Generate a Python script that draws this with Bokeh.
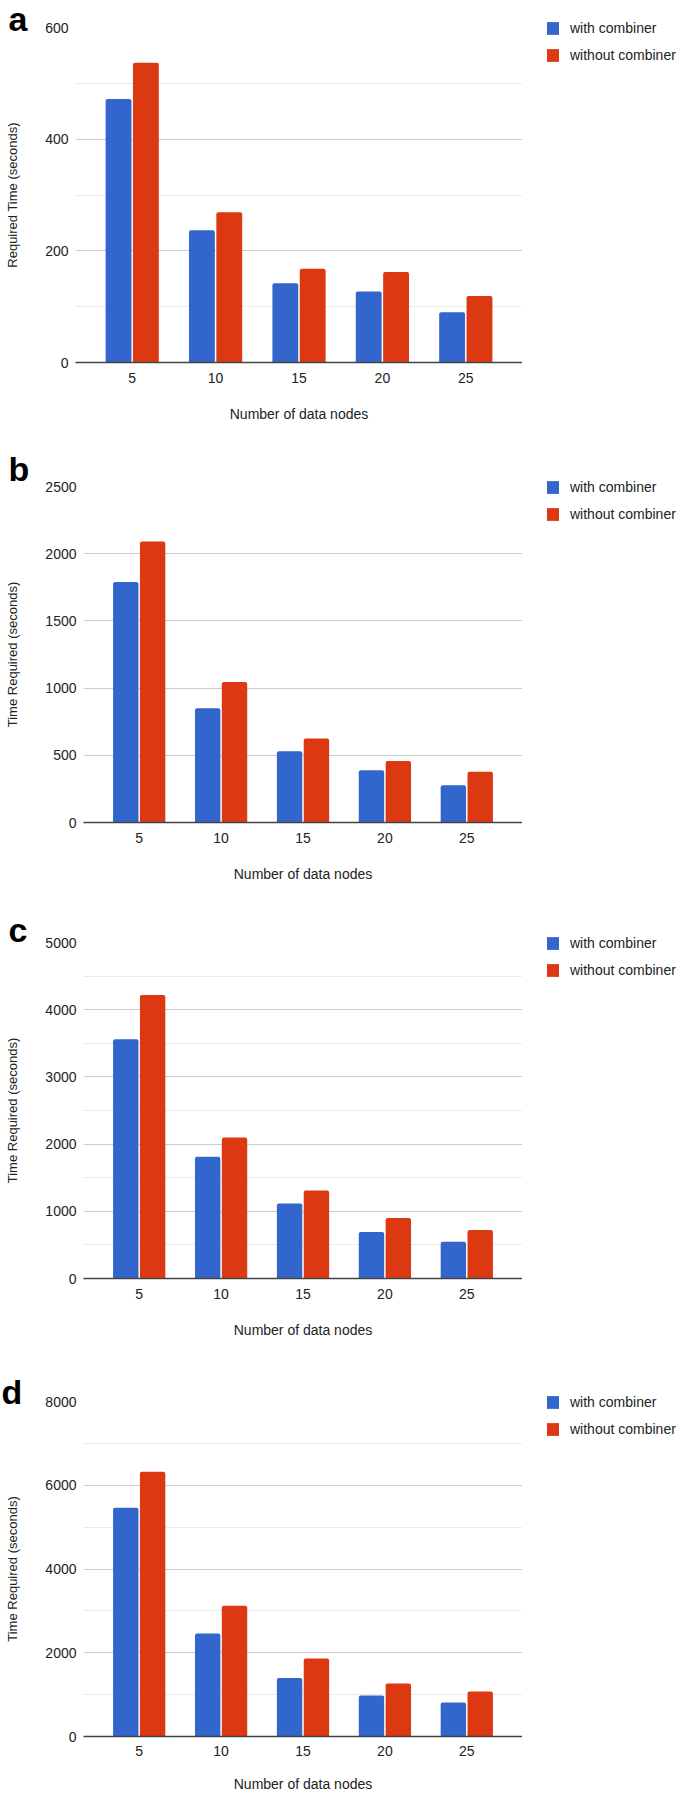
from bokeh.plotting import figure
from bokeh.models import (ColumnDataSource, FactorRange, Range1d, FixedTicker,
                          Legend, LegendItem)
from bokeh.transform import dodge
from bokeh.layouts import column, row
from bokeh.embed import file_html
from bokeh.resources import INLINE

# ---------------- data ----------------
nodes = ["5", "10", "15", "20", "25"]
series_names = ["with combiner", "without combiner"]
series_colors = ["#3366cc", "#dc3912"]

a_with = [472, 237, 142, 127, 90]
a_without = [537, 269, 168, 162, 119]

b_with = [1790, 850, 530, 388, 278]
b_without = [2090, 1045, 625, 457, 378]

c_with = [3560, 1810, 1115, 691, 547]
c_without = [4220, 2100, 1310, 900, 721]

d_with = [5460, 2460, 1400, 980, 810]
d_without = [6320, 3120, 1860, 1265, 1075]

a_ticks = [0, 200, 400, 600]
a_minor = [100, 300, 500]
b_ticks = [0, 500, 1000, 1500, 2000, 2500]
b_minor = []
c_ticks = [0, 1000, 2000, 3000, 4000, 5000]
c_minor = [500, 1500, 2500, 3500, 4500]
d_ticks = [0, 2000, 4000, 6000, 8000]
d_minor = [1000, 3000, 5000, 7000]

panel_letters = ["a", "b", "c", "d"]
y_titles = ["Required Time (seconds)", "Time Required (seconds)",
            "Time Required (seconds)", "Time Required (seconds)"]
x_title = "Number of data nodes"

FONT = "Liberation Sans"
TXT = "#222222"
MAIN_W = 522
LEG_W = 163


def make_panel(letter, with_vals, without_vals, ticks, minor, ytitle,
               fig_h, b_top, b_left, frame_h, x_label_standoff, x_title_standoff,
               letter_x, letter_valign, letter_standoff):
    src = ColumnDataSource(dict(x=nodes, w=with_vals, wo=without_vals))
    b_bottom = fig_h - b_top - frame_h
    p = figure(width=MAIN_W, height=fig_h,
               x_range=FactorRange(factors=nodes, range_padding=0.18,
                                   range_padding_units="absolute"),
               y_range=Range1d(0, ticks[-1]),
               output_backend="svg", toolbar_location=None, tools="",
               min_border_top=b_top, min_border_left=b_left,
               min_border_right=0, min_border_bottom=b_bottom)
    p.outline_line_color = None
    p.background_fill_color = "white"
    p.border_fill_color = "white"

    p.vbar(x=dodge("x", -0.164, range=p.x_range), top="w", width=0.31,
           source=src, fill_color=series_colors[0], line_color=None,
           border_radius=(2, 2, 0, 0))
    p.vbar(x=dodge("x", 0.164, range=p.x_range), top="wo", width=0.31,
           source=src, fill_color=series_colors[1], line_color=None,
           border_radius=(2, 2, 0, 0))

    ticker = FixedTicker(ticks=ticks, minor_ticks=minor)
    p.yaxis.ticker = ticker
    p.ygrid.ticker = ticker
    p.ygrid.grid_line_color = "#cccccc"
    p.ygrid.grid_line_width = 1
    p.ygrid.minor_grid_line_color = "#ebebeb"
    p.xgrid.grid_line_color = None

    for ax in (p.xaxis, p.yaxis):
        ax.major_tick_line_color = None
        ax.minor_tick_line_color = None
        ax.major_tick_out = 0
        ax.major_tick_in = 0
        ax.minor_tick_out = 0
        ax.minor_tick_in = 0
        ax.major_label_text_font = FONT
        ax.major_label_text_font_size = "14px"
        ax.major_label_text_color = TXT
        ax.axis_label_text_font = FONT
        ax.axis_label_text_font_style = "normal"
        ax.axis_label_text_color = TXT

    p.yaxis.axis_line_color = None
    p.yaxis.major_label_standoff = 7
    p.yaxis.axis_label = ytitle
    p.yaxis.axis_label_text_font_size = "13px"
    p.yaxis.axis_label_standoff = 22

    p.xaxis.axis_line_color = "#444444"
    p.xaxis.axis_line_width = 1.5
    p.xaxis.major_label_standoff = x_label_standoff
    p.xaxis.axis_label = x_title
    p.xaxis.axis_label_text_font_size = "14px"
    p.xaxis.axis_label_standoff = x_title_standoff

    # panel letter as the plot title
    p.title.text = letter
    p.title.align = "left"
    p.title.offset = letter_x - b_left
    p.title.vertical_align = letter_valign
    p.title.standoff = letter_standoff
    p.title.text_font = FONT
    p.title.text_font_style = "bold"
    p.title.text_font_size = "34px"
    p.title.text_color = "#000000"

    # legend panel to the right of the chart area
    row_h = 16
    spacing = 11
    lg = figure(width=LEG_W, height=fig_h, x_range=Range1d(0, 1),
                y_range=Range1d(0, 1), x_axis_type=None, y_axis_type=None,
                output_backend="svg", toolbar_location=None, tools="",
                min_border_top=b_top - 7, min_border_left=23,
                min_border_right=0, min_border_bottom=0)
    lg.title.visible = False
    lg.outline_line_color = None
    lg.background_fill_color = "white"
    lg.border_fill_color = "white"
    # key swatches only: their single bars lie outside the visible ranges
    k1 = lg.vbar(x=[-5], top=[-5], width=0.3, fill_color=series_colors[0],
                 line_color=None)
    k2 = lg.vbar(x=[-5], top=[-5], width=0.3, fill_color=series_colors[1],
                 line_color=None)
    legend = Legend(items=[LegendItem(label=series_names[0], renderers=[k1]),
                           LegendItem(label=series_names[1], renderers=[k2])],
                    location="top_left",
                    orientation="vertical", padding=0, margin=0,
                    spacing=spacing, glyph_width=15, glyph_height=row_h,
                    label_height=row_h, label_standoff=10,
                    label_text_font=FONT, label_text_font_size="14px",
                    label_text_color=TXT, border_line_color=None,
                    background_fill_alpha=0)
    lg.add_layout(legend, "center")
    # the key sits in its own column so that its frame is not aligned to the chart's
    return row(p, column(lg, spacing=0), spacing=0)


ra = make_panel(panel_letters[0], a_with, a_without, a_ticks, a_minor, y_titles[0],
                425, 27, 75, 335, 10, 20, 8, "top", -24)
rb = make_panel(panel_letters[1], b_with, b_without, b_ticks, b_minor, y_titles[1],
                460, 61, 83, 336, 10, 20, 8, "bottom", -2.4)
rc = make_panel(panel_letters[2], c_with, c_without, c_ticks, c_minor, y_titles[2],
                456, 57, 83, 336, 10, 20, 8, "bottom", -12)
rd = make_panel(panel_letters[3], d_with, d_without, d_ticks, d_minor, y_titles[3],
                454, 60, 83, 335, 9, 17, 1, "bottom", -18.4)

layout = column(ra, rb, rc, rd, spacing=0)

open("out.html", "w").write(file_html(layout, INLINE))
